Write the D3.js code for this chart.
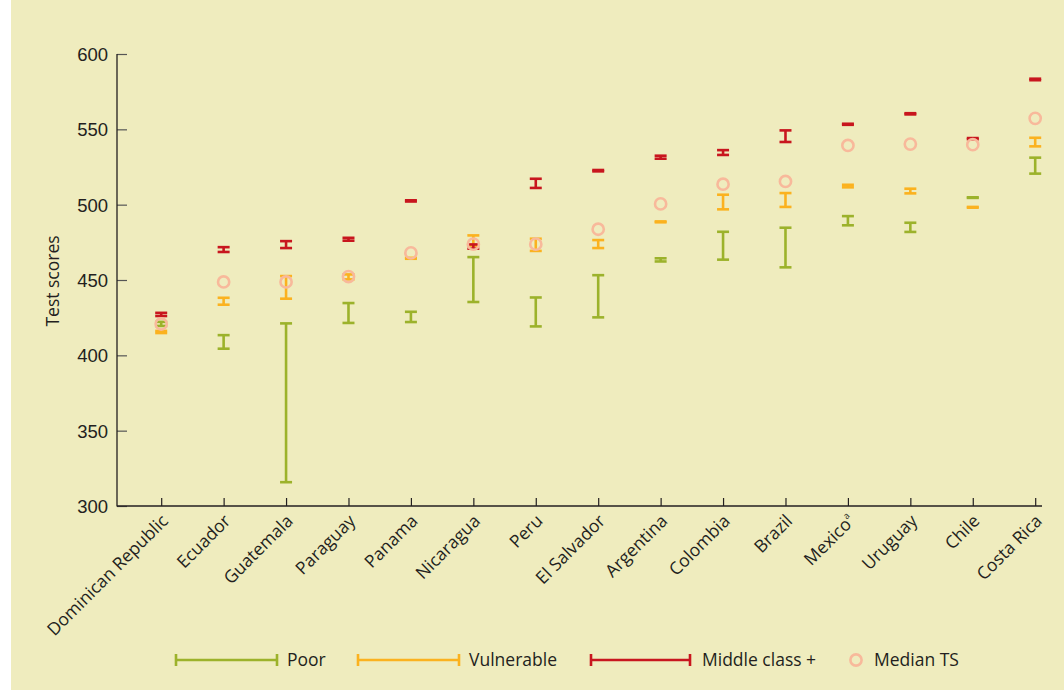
<!DOCTYPE html>
<html><head><meta charset="utf-8">
<script src="https://cdn.jsdelivr.net/npm/d3@7"></script>
<style>
html,body{margin:0;padding:0;background:#fff;}
svg{display:block;font-family:"Open Sans","Noto Sans",sans-serif;}
</style></head>
<body><svg id="c" width="1064" height="691"></svg>
<script>
const countries = ["Dominican Republic","Ecuador","Guatemala","Paraguay","Panama","Nicaragua","Peru","El Salvador","Argentina","Colombia","Brazil","Mexico","Uruguay","Chile","Costa Rica"];
const poorLow  = [419.5,404.4,315.8,421.5,422.1,435.4,419.2,425.2,462.3,463.5,458.4,486.3,481.9,504.5,520.6];
const poorHigh = [422.2,413.4,421.2,434.7,428.9,465.2,438.4,453.2,464.4,482.0,484.7,492.4,488.0,504.9,531.2];
const vulnLow  = [414.8,433.6,437.6,450.4,464.1,472.8,469.3,471.2,488.3,496.9,498.5,511.5,507.5,498.0,538.7];
const vulnHigh = [416.2,438.2,452.6,453.7,464.7,479.6,477.4,476.5,488.9,506.6,507.7,513.2,510.6,498.5,544.4];
const midLow   = [426.1,468.6,471.2,476.1,502.1,470.8,511.1,522.1,530.5,533.0,541.6,553.0,559.9,543.4,582.6];
const midHigh  = [428.2,471.8,475.8,478.0,502.9,473.6,517.2,523.0,532.5,536.2,549.3,553.7,560.7,544.2,583.6];
const medianTS = [420.8,448.7,448.7,452.3,468.0,473.8,473.8,483.7,500.5,513.6,515.4,539.3,540.2,539.8,557.3];
const yTicks = [300,350,400,450,500,550,600];
const legendLabels = ["Poor","Vulnerable","Middle class +","Median TS"];

const colors = {poor:"#9cb22b", vuln:"#fbb21f", mid:"#c8161e", med:"#f8b99b"};
const svg = d3.select("#c");
svg.append("rect").attr("x",11).attr("y",0).attr("width",1053).attr("height",690).attr("fill","#efecbe");

const x = d3.scalePoint().domain(countries).range([161.2,1035.2]);
const y = d3.scaleLinear().domain([300,600]).range([506,54]);
const axisColor = "#231f20";

// y axis
const ya = svg.append("g").attr("transform","translate(117,0)")
  .call(d3.axisLeft(y).tickValues(yTicks).tickSize(-10).tickPadding(9).tickSizeOuter(0));
ya.select(".domain").remove();
ya.selectAll(".tick line").attr("stroke","#555").attr("stroke-width",1.2);
ya.selectAll(".tick text").attr("fill",axisColor).attr("font-size",18.5).attr("dy","0.35em");
svg.append("line").attr("x1",117).attr("x2",117).attr("y1",y(600)).attr("y2",y(300)+0.5)
  .attr("stroke",axisColor).attr("stroke-width",1.3);

// x axis
const xa = svg.append("g").attr("transform","translate(0,506)")
  .call(d3.axisBottom(x).tickSize(-8).tickSizeOuter(0));
xa.select(".domain").remove();
xa.selectAll(".tick line").attr("stroke",axisColor).attr("stroke-width",1.2);
xa.selectAll(".tick text").remove();
svg.append("line").attr("x1",117).attr("x2",1042).attr("y1",506).attr("y2",506)
  .attr("stroke",axisColor).attr("stroke-width",1.3);

const lab = svg.append("g");
countries.forEach(c=>{
  const t = lab.append("text").attr("text-anchor","end").attr("font-size",17.5).attr("fill",axisColor)
    .attr("transform",`translate(${x(c)+8},${522}) rotate(-45)`);
  if(c==="Mexico"){
    t.append("tspan").text("Mexico");
    t.append("tspan").text("a").attr("font-size",9).attr("dy","-0.9em");
  } else t.text(c);
});

// y axis title
svg.append("text").attr("transform","translate(59,281) rotate(-90)").attr("text-anchor","middle")
  .attr("font-size",17.5).attr("fill",axisColor).text("Test scores");

// error bars
const cap = 6;
function drawBars(lows, highs, color){
  const g = svg.append("g").attr("stroke",color).attr("stroke-width",2.6).attr("fill","none");
  countries.forEach((c,i)=>{
    const cx = x(c), y1 = y(lows[i]), y2 = y(highs[i]);
    g.append("line").attr("x1",cx).attr("x2",cx).attr("y1",y1).attr("y2",y2);
    g.append("line").attr("x1",cx-cap).attr("x2",cx+cap).attr("y1",y1).attr("y2",y1);
    g.append("line").attr("x1",cx-cap).attr("x2",cx+cap).attr("y1",y2).attr("y2",y2);
  });
}
drawBars(poorLow, poorHigh, colors.poor);
drawBars(vulnLow, vulnHigh, colors.vuln);
drawBars(midLow, midHigh, colors.mid);
svg.append("g").selectAll("circle").data(medianTS).join("circle")
  .attr("cx",(d,i)=>x(countries[i])).attr("cy",d=>y(d)).attr("r",5.6)
  .attr("fill","none").attr("stroke",colors.med).attr("stroke-width",2.6);

// legend
const lg = svg.append("g");
const legItems = [
  {x1:176,x2:277,tx:287,color:colors.poor},
  {x1:358,x2:459,tx:469,color:colors.vuln},
  {x1:591,x2:690,tx:702,color:colors.mid}
];
const ly = 660;
legItems.forEach((it,i)=>{
  lg.append("line").attr("x1",it.x1).attr("x2",it.x2).attr("y1",ly).attr("y2",ly).attr("stroke",it.color).attr("stroke-width",2.6);
  lg.append("line").attr("x1",it.x1).attr("x2",it.x1).attr("y1",ly-6).attr("y2",ly+6).attr("stroke",it.color).attr("stroke-width",2.6);
  lg.append("line").attr("x1",it.x2).attr("x2",it.x2).attr("y1",ly-6).attr("y2",ly+6).attr("stroke",it.color).attr("stroke-width",2.6);
  lg.append("text").attr("x",it.tx).attr("y",ly).attr("dy","0.36em").attr("font-size",17.5).attr("fill",axisColor).text(legendLabels[i]);
});
lg.append("circle").attr("cx",856).attr("cy",ly).attr("r",5.6).attr("fill","none").attr("stroke",colors.med).attr("stroke-width",2.6);
lg.append("text").attr("x",874).attr("y",ly).attr("dy","0.36em").attr("font-size",17.5).attr("fill",axisColor).text(legendLabels[3]);
</script></body></html>
